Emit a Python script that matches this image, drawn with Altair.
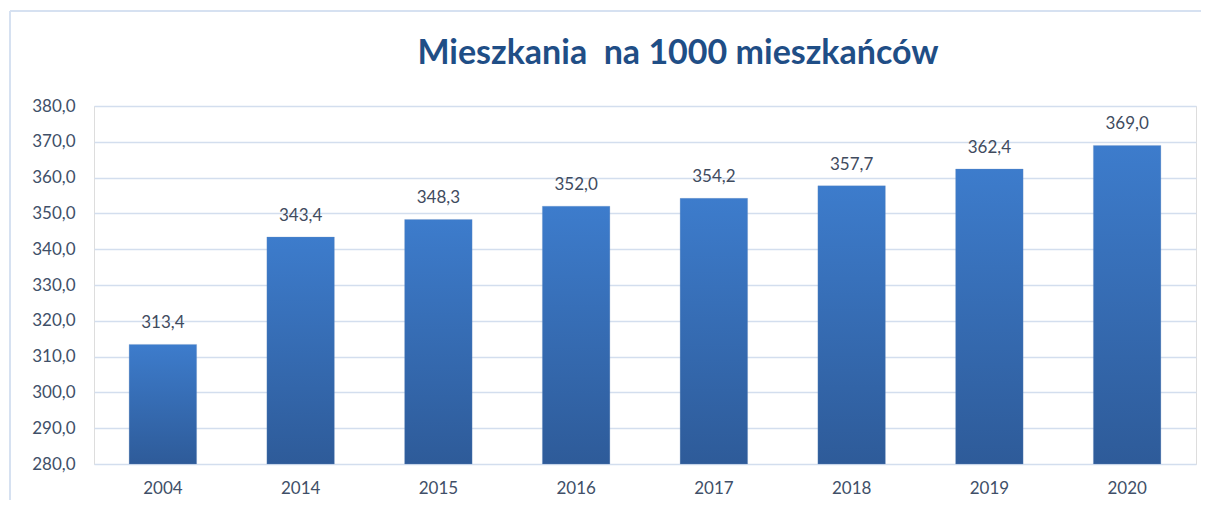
import altair as alt
import pandas as pd

years = ["2004", "2014", "2015", "2016", "2017", "2018", "2019", "2020"]
values = [313.4, 343.4, 348.3, 352.0, 354.2, 357.7, 362.4, 369.0]

df = pd.DataFrame({"rok": years, "wartosc": values})

FONT = "Lato"
LABEL_COLOR = "#404F68"

x = alt.X("rok:N", sort=years, title=None,
          scale=alt.Scale(paddingInner=0.51, paddingOuter=0.255),
          axis=alt.Axis(labelAngle=0, ticks=False, domain=False, labelFont=FONT,
                        labelFontSize=17, labelColor=LABEL_COLOR, labelPadding=16))
y = alt.Y("wartosc:Q", title=None,
          scale=alt.Scale(domain=[280, 380], zero=False, nice=False),
          axis=alt.Axis(values=list(range(280, 381, 10)), ticks=False, domain=False,
                        labelFont=FONT, labelFontSize=17, labelColor=LABEL_COLOR,
                        labelPadding=19, gridColor="#D3DEEE", gridWidth=1.3,
                        labelExpr="replace(format(datum.value, '.1f'), '.', ',')"))

base = alt.Chart(df)

bars = base.mark_bar(
    color=alt.Gradient(
        gradient="linear", x1=0, y1=0, x2=0, y2=1,
        stops=[alt.GradientStop(color="#3D7CCC", offset=0),
               alt.GradientStop(color="#2E5B99", offset=1)]),
    stroke="#6E93C4", strokeWidth=0.5, strokeOpacity=0.5,
).encode(x=x, y=y, y2=alt.datum(280))

labels = base.transform_calculate(
    lab="replace(format(datum.wartosc, '.1f'), '.', ',')"
).mark_text(font=FONT, fontSize=17, color="#3F4B5E", dy=-12, baseline="bottom").encode(
    x=x, y=y, text="lab:N")

frame_top = alt.Chart(df).mark_rule(color="#D6E1F0", strokeWidth=1.5).encode(
    x=alt.value(-84), x2=alt.value(1130), y=alt.value(-95))
frame_left = alt.Chart(df).mark_rule(color="#D6E1F0", strokeWidth=1.5).encode(
    x=alt.value(-84), y=alt.value(-95), y2=alt.value(420))

chart = alt.layer(bars, labels, frame_top, frame_left).properties(
    width=1102, height=358,
    title=alt.TitleParams("Mieszkania\u00a0 na 1000 mieszkańców", font=FONT, fontSize=34,
                          fontWeight="bold", color="#1F4E86", anchor="middle",
                          baseline="alphabetic", dx=33, offset=-88),
    autosize=alt.AutoSizeParams(type="none"),
    padding={"left": 86, "top": 98, "right": 5, "bottom": 36},
).configure_view(stroke=None).configure(background="white")

chart.save("out.html", embed_options={"renderer": "svg", "actions": False})
